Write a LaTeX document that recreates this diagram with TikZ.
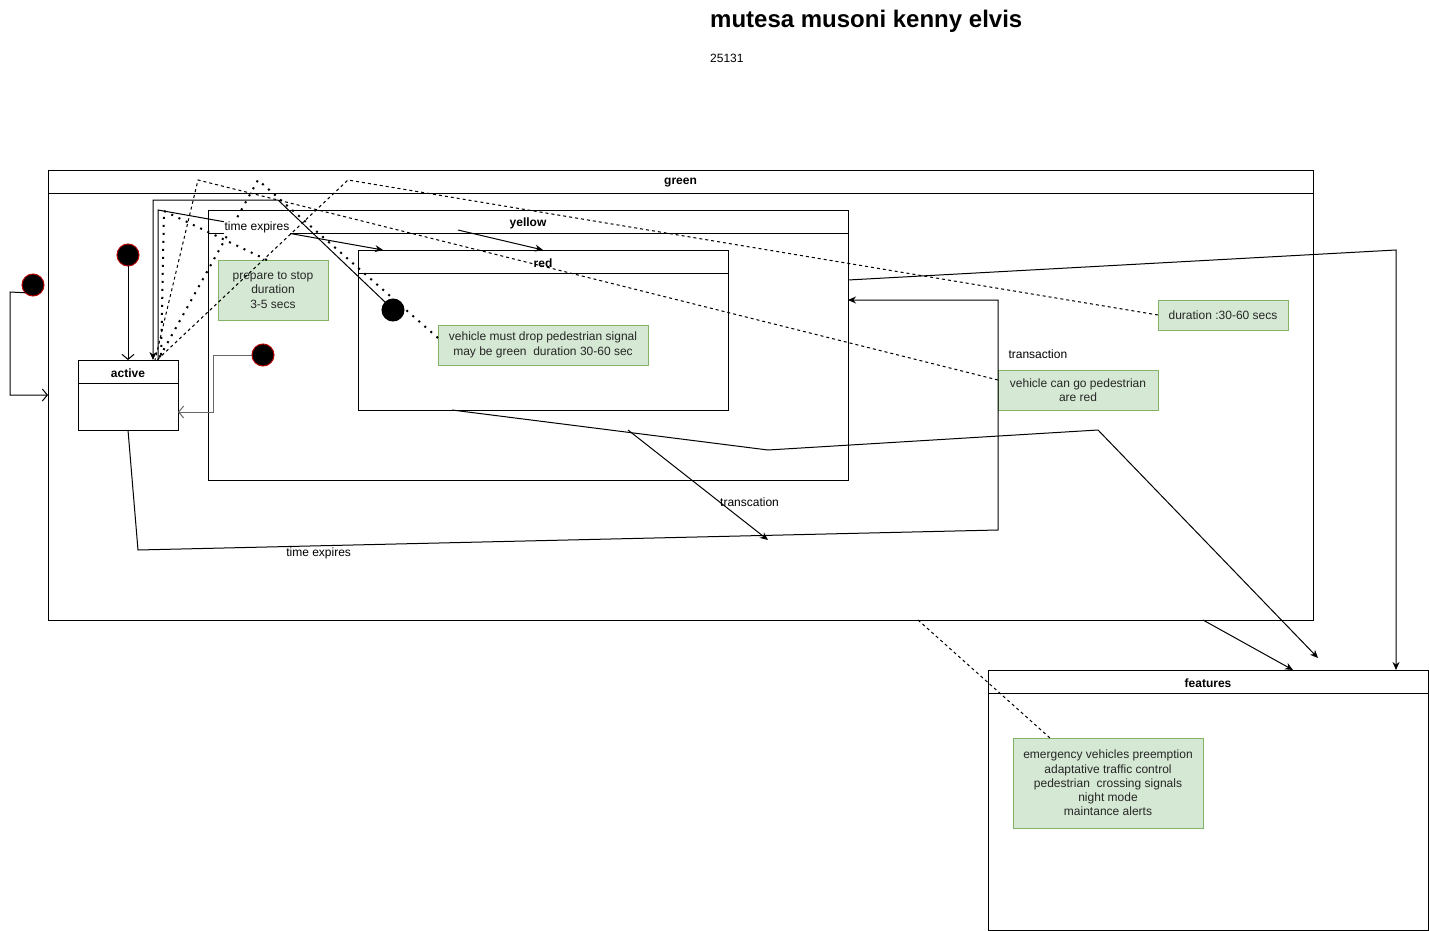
\documentclass[tikz,border=0pt]{standalone}
\usepackage{fontspec}
\setmainfont{Liberation Sans}
\usepackage{tikz}
\usetikzlibrary{positioning,arrows.meta}

\definecolor{notefill}{HTML}{D5E8D4}
\definecolor{noteline}{HTML}{82B366}
\definecolor{initline}{HTML}{B20000}

\tikzset{
  statebox/.style={draw, line width=1pt, inner sep=0pt, outer sep=0pt},
  statename/.style={font=\bfseries\fontsize{12}{14}\selectfont, inner sep=0pt},
  notebox/.style={draw=noteline, fill=notefill, line width=1pt, inner sep=0pt, outer sep=0pt, align=center, font=\fontsize{12}{14.5}\selectfont, text=black!85},
  initdot/.style={circle, fill=black, draw=initline, line width=1pt, minimum size=22pt, inner sep=0pt, outer sep=0pt},
  trans/.style={line width=1pt, -{Stealth[length=8pt,width=7pt]}},
  initarrow/.style={line width=1pt, -{Straight Barb[length=5pt,width=12pt]}},
  anchorline/.style={line width=1pt, dash pattern=on 3pt off 3pt},
  dotline/.style={line width=2pt, dash pattern=on 2pt off 6pt},
  lbl/.style={font=\fontsize{12}{14}\selectfont, inner sep=1pt}
}

\begin{document}
\begin{tikzpicture}[x=1pt,y=-1pt]
    \useasboundingbox (0,0) rectangle (1429,931);
    % Title
    \node[anchor=west, inner sep=0pt, font=\bfseries\fontsize{24}{28}\selectfont] (title) at (710,21) {mutesa musoni kenny elvis};
    \node[anchor=west, inner sep=0pt, font=\fontsize{12}{14}\selectfont] (idnum) at (710,58) {25131};
    % States
    \node[statebox, minimum width=1265pt, minimum height=450pt] (green) at (680.5,395) {};
    \node[statebox, minimum width=640pt, minimum height=270pt] (yellow) at (528,345) {};
    \node[statebox, minimum width=370pt, minimum height=160pt] (red) at (543,330) {};
    \node[statebox, minimum width=100pt, minimum height=70pt] (active) at (128,395) {};
    \node[statebox, minimum width=440pt, minimum height=260pt] (features) at (1208,800) {};
    \foreach \s/\t in {green/green, yellow/yellow, red/red, active/active, features/features} {
        \draw[line width=1pt] ([yshift=-23pt]\s.north west) -- ([yshift=-23pt]\s.north east);
        \node[statename, below=13pt of \s.north, anchor=center] {\t};
    }
    % Notes
    \node[notebox, minimum width=110pt, minimum height=60pt] (prep) at (273,290) {prepare to stop\\duration\\3-5 secs};
    \node[notebox, minimum width=210pt, minimum height=40pt] (drop) at (543,345) {vehicle must drop pedestrian signal\\may be green\ \ duration 30-60 sec};
    \node[notebox, minimum width=130pt, minimum height=30pt] (dur) at (1223,315) {duration :30-60 secs};
    \node[notebox, minimum width=160pt, minimum height=40pt] (go) at (1078,390) {vehicle can go pedestrian\\are red};
    \node[notebox, minimum width=190pt, minimum height=90pt, font=\fontsize{12}{14.25}\selectfont] (featnote) at (1108,783) {emergency vehicles preemption\\adaptative traffic control\\pedestrian\ \ crossing signals\\night mode\\maintance alerts};
    % Free ends
    \coordinate (ystart) at (458,230);
    \coordinate (tstart) at (628,430);
    \coordinate (tend) at (768,540);
    % Note links
    \draw[anchorline] (dur.west) -- (348,180) -- ([xshift=29pt]active.north);
    \draw[anchorline] ([yshift=10pt]go.west) -- (198,180) -- ([xshift=27pt]active.north);
    \draw[dotline] ([yshift=7pt]drop.west) -- (258,180) -- ([xshift=30pt]active.north);
    \draw[dotline] ([xshift=-6pt]prep.north) -- (164,211) -- ([xshift=33pt]active.north);
    \draw[anchorline] ([xshift=237.5pt]green.south) -- ([xshift=-58pt]featnote.north);
    % Transitions
    \draw[trans] ([xshift=30pt]active.north) -- (158,210) -- node[lbl, fill=white, pos=0.44] {time expires} ([xshift=-160pt]red.north);
    \draw[trans] (ystart) -- (red.north);
    \draw[trans] ([xshift=-91pt]red.south) -- (768,450) -- (1098,430) -- ([xshift=110pt,yshift=12pt]features.north);
    \draw[trans] (tstart) -- node[lbl, pos=0.655, anchor=west, inner sep=0pt] {transcation} (tend);
    \draw[trans] (active.south) -- (138,550) -- node[lbl, pos=0.21, anchor=north] {time expires} (998,530) -- node[lbl, pos=0.765, right=9pt] {transaction} (998,300) -- ([yshift=45pt]yellow.east);
    \draw[trans] ([yshift=65pt]yellow.east) -- (1396,250) -- ([xshift=188pt]features.north);
    \draw[trans] ([xshift=522.5pt]green.south) -- ([xshift=85pt]features.north);
    % Initial states
    \node[initdot] (init1) at (33,285) {};
    \node[initdot] (init2) at (128,255) {};
    \node[initdot] (init3) at (263,355) {};
    \node[initdot, draw=black] (dot) at (393,310) {};
    \draw[initarrow] (init1.south west) -- (10,292) |- (green.west);
    \draw[initarrow] (init2) -- (active.north);
    \draw[initarrow, draw=black!60] (init3.west) -- (213,355) |- ([yshift=-17pt]active.east);
    \draw[trans] (dot.north west) -- (278,200) -| ([xshift=25pt]active.north);
\end{tikzpicture}
\end{document}
